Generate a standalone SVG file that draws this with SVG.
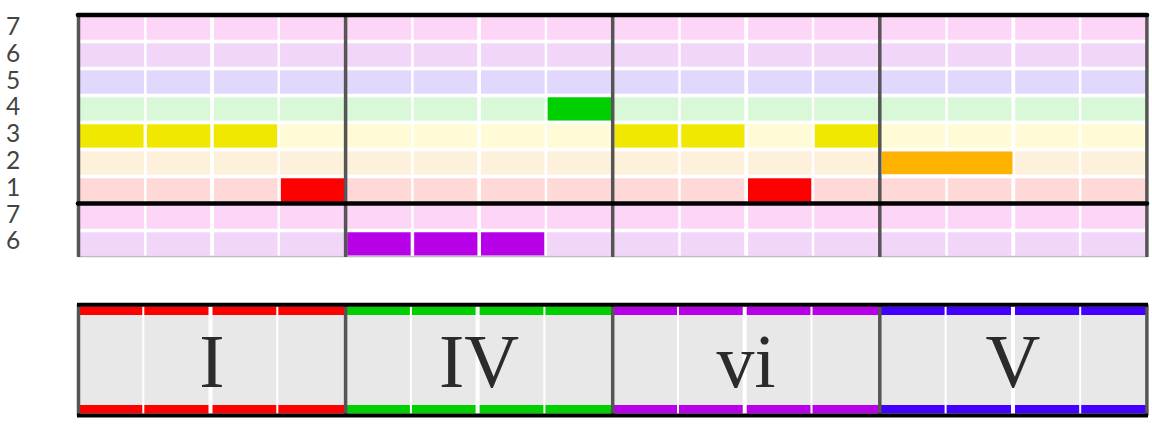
<svg xmlns="http://www.w3.org/2000/svg" width="1152" height="434" viewBox="0 0 1152 434">
<style>
.lbl{font-family:Lato,"Noto Sans","DejaVu Sans",sans-serif;font-size:24.5px;fill:#444}
.chord{font-family:"Liberation Serif","DejaVu Serif",serif;font-size:76px;fill:#2b2b2b;text-anchor:middle}
.wq{stroke:#fff;stroke-width:2.5}
.wh{stroke:#fff;stroke-width:3.8}
.bar{stroke:#555;stroke-width:3.5}
.blk{stroke:#000;stroke-width:4.6;stroke-linecap:round}
</style>
<rect width="1152" height="434" fill="#fff"/>
<g id="row-labels">
<text class="lbl" x="6" y="35">7</text>
<text class="lbl" x="6" y="61.8">6</text>
<text class="lbl" x="6" y="88.6">5</text>
<text class="lbl" x="6" y="115.4">4</text>
<text class="lbl" x="6" y="142.2">3</text>
<text class="lbl" x="6" y="169">2</text>
<text class="lbl" x="6" y="195.8">1</text>
<text class="lbl" x="6" y="222.6">7</text>
<text class="lbl" x="6" y="249.4">6</text>
</g>
<g id="piano-roll">
<rect x="78.5" y="16.3" width="1068.5" height="23.4" fill="#fdd5f7"/>
<rect x="78.5" y="43.3" width="1068.5" height="23.4" fill="#f2d6fa"/>
<rect x="78.5" y="70.3" width="1068.5" height="23.4" fill="#e2d8fe"/>
<rect x="78.5" y="97.3" width="1068.5" height="23.4" fill="#d8f8d8"/>
<rect x="78.5" y="124.3" width="1068.5" height="23.4" fill="#fffbd6"/>
<rect x="78.5" y="151.3" width="1068.5" height="23.4" fill="#fef1dc"/>
<rect x="78.5" y="178.3" width="1068.5" height="23.4" fill="#ffd8d8"/>
<rect x="78.5" y="205.3" width="1068.5" height="23.4" fill="#fdd5f7"/>
<rect x="78.5" y="232.3" width="1068.5" height="23.4" fill="#f2d6fa"/>
<g id="grid-lines">
<line class="wq" x1="145.3" y1="15" x2="145.3" y2="256"/>
<line class="wh" x1="212" y1="15" x2="212" y2="256"/>
<line class="wq" x1="278.8" y1="15" x2="278.8" y2="256"/>
<line class="wq" x1="412.4" y1="15" x2="412.4" y2="256"/>
<line class="wh" x1="479.1" y1="15" x2="479.1" y2="256"/>
<line class="wq" x1="545.9" y1="15" x2="545.9" y2="256"/>
<line class="wq" x1="679.5" y1="15" x2="679.5" y2="256"/>
<line class="wh" x1="746.2" y1="15" x2="746.2" y2="256"/>
<line class="wq" x1="813" y1="15" x2="813" y2="256"/>
<line class="wq" x1="946.6" y1="15" x2="946.6" y2="256"/>
<line class="wh" x1="1013.3" y1="15" x2="1013.3" y2="256"/>
<line class="wq" x1="1080.1" y1="15" x2="1080.1" y2="256"/>
</g>
<g id="notes">
<rect x="80" y="124.3" width="63.5" height="23.2" fill="#f0e800"/>
<rect x="147" y="124.3" width="63.3" height="23.2" fill="#f0e800"/>
<rect x="213.8" y="124.3" width="63.3" height="23.2" fill="#f0e800"/>
<rect x="281" y="178.3" width="63" height="23.4" fill="#ff0000"/>
<rect x="347.3" y="232.3" width="63.3" height="23.2" fill="#b800e8"/>
<rect x="414.2" y="232.3" width="63.2" height="23.2" fill="#b800e8"/>
<rect x="481" y="232.3" width="63.2" height="23.2" fill="#b800e8"/>
<rect x="547.7" y="97.3" width="63.3" height="23.2" fill="#00d000"/>
<rect x="614.5" y="124.3" width="63.3" height="23.2" fill="#f0e800"/>
<rect x="681.3" y="124.3" width="63.2" height="23.2" fill="#f0e800"/>
<rect x="748" y="178.3" width="63.2" height="23.4" fill="#ff0000"/>
<rect x="814.8" y="124.3" width="63.3" height="23.2" fill="#f0e800"/>
<rect x="882" y="151.5" width="130.5" height="22.6" fill="#ffb300"/>
</g>
<line x1="78.5" y1="256.5" x2="1147" y2="256.5" stroke="#bdbdbd" stroke-width="1.5"/>
<g id="bar-lines">
<line class="bar" x1="78.5" y1="15" x2="78.5" y2="257"/>
<line class="bar" x1="345.6" y1="15" x2="345.6" y2="257"/>
<line class="bar" x1="612.7" y1="15" x2="612.7" y2="257"/>
<line class="bar" x1="879.8" y1="15" x2="879.8" y2="257"/>
<line class="bar" x1="1146.9" y1="15" x2="1146.9" y2="257"/>
</g>
<line class="blk" x1="78" y1="15" x2="1147" y2="15"/>
<line class="blk" x1="78" y1="203.5" x2="1147" y2="203.5"/>
</g>
<g id="chords">
<rect x="78.5" y="306.5" width="1068.5" height="107" fill="#e8e8e8"/>
<g id="chord-I">
<rect x="78.5" y="306.5" width="267.1" height="8.5" fill="#ff0000"/>
<rect x="78.5" y="405" width="267.1" height="8.5" fill="#ff0000"/>
</g>
<g id="chord-IV">
<rect x="345.6" y="306.5" width="267.1" height="8.5" fill="#00d000"/>
<rect x="345.6" y="405" width="267.1" height="8.5" fill="#00d000"/>
</g>
<g id="chord-vi">
<rect x="612.7" y="306.5" width="267.1" height="8.5" fill="#b800e8"/>
<rect x="612.7" y="405" width="267.1" height="8.5" fill="#b800e8"/>
</g>
<g id="chord-V">
<rect x="879.8" y="306.5" width="267.1" height="8.5" fill="#4400ff"/>
<rect x="879.8" y="405" width="267.1" height="8.5" fill="#4400ff"/>
</g>
<g id="chord-grid">
<line x1="143.3" y1="305" x2="143.3" y2="415" stroke="#fff" stroke-width="2"/>
<line x1="210.5" y1="305" x2="210.5" y2="415" stroke="#fff" stroke-width="4"/>
<line x1="277.3" y1="305" x2="277.3" y2="415" stroke="#fff" stroke-width="2"/>
<line x1="410.9" y1="305" x2="410.9" y2="415" stroke="#fff" stroke-width="2"/>
<line x1="477.6" y1="305" x2="477.6" y2="415" stroke="#fff" stroke-width="4"/>
<line x1="544.4" y1="305" x2="544.4" y2="415" stroke="#fff" stroke-width="2"/>
<line x1="678" y1="305" x2="678" y2="415" stroke="#fff" stroke-width="2"/>
<line x1="744.7" y1="305" x2="744.7" y2="415" stroke="#fff" stroke-width="4"/>
<line x1="811.5" y1="305" x2="811.5" y2="415" stroke="#fff" stroke-width="2"/>
<line x1="945.6" y1="305" x2="945.6" y2="415" stroke="#fff" stroke-width="2"/>
<line x1="1013" y1="305" x2="1013" y2="415" stroke="#fff" stroke-width="4"/>
<line x1="1080.2" y1="305" x2="1080.2" y2="415" stroke="#fff" stroke-width="2"/>
</g>
<text class="chord" x="212" y="386.5">I</text>
<text class="chord" x="479" y="386.5">IV</text>
<text class="chord" x="746" y="386.5">vi</text>
<text class="chord" x="1013" y="386.5">V</text>
<line class="bar" x1="78.5" y1="304.5" x2="78.5" y2="415.5" stroke-width="4"/>
<line class="bar" x1="345.6" y1="304.5" x2="345.6" y2="415.5" stroke-width="4"/>
<line class="bar" x1="612.7" y1="304.5" x2="612.7" y2="415.5" stroke-width="4"/>
<line class="bar" x1="879.8" y1="304.5" x2="879.8" y2="415.5" stroke-width="4"/>
<line class="bar" x1="1146.9" y1="304.5" x2="1146.9" y2="415.5" stroke-width="4"/>
<line x1="77" y1="304.7" x2="1148" y2="304.7" stroke="#000" stroke-width="4"/>
<line x1="77" y1="415.5" x2="1148" y2="415.5" stroke="#000" stroke-width="4"/>
</g>
</svg>
